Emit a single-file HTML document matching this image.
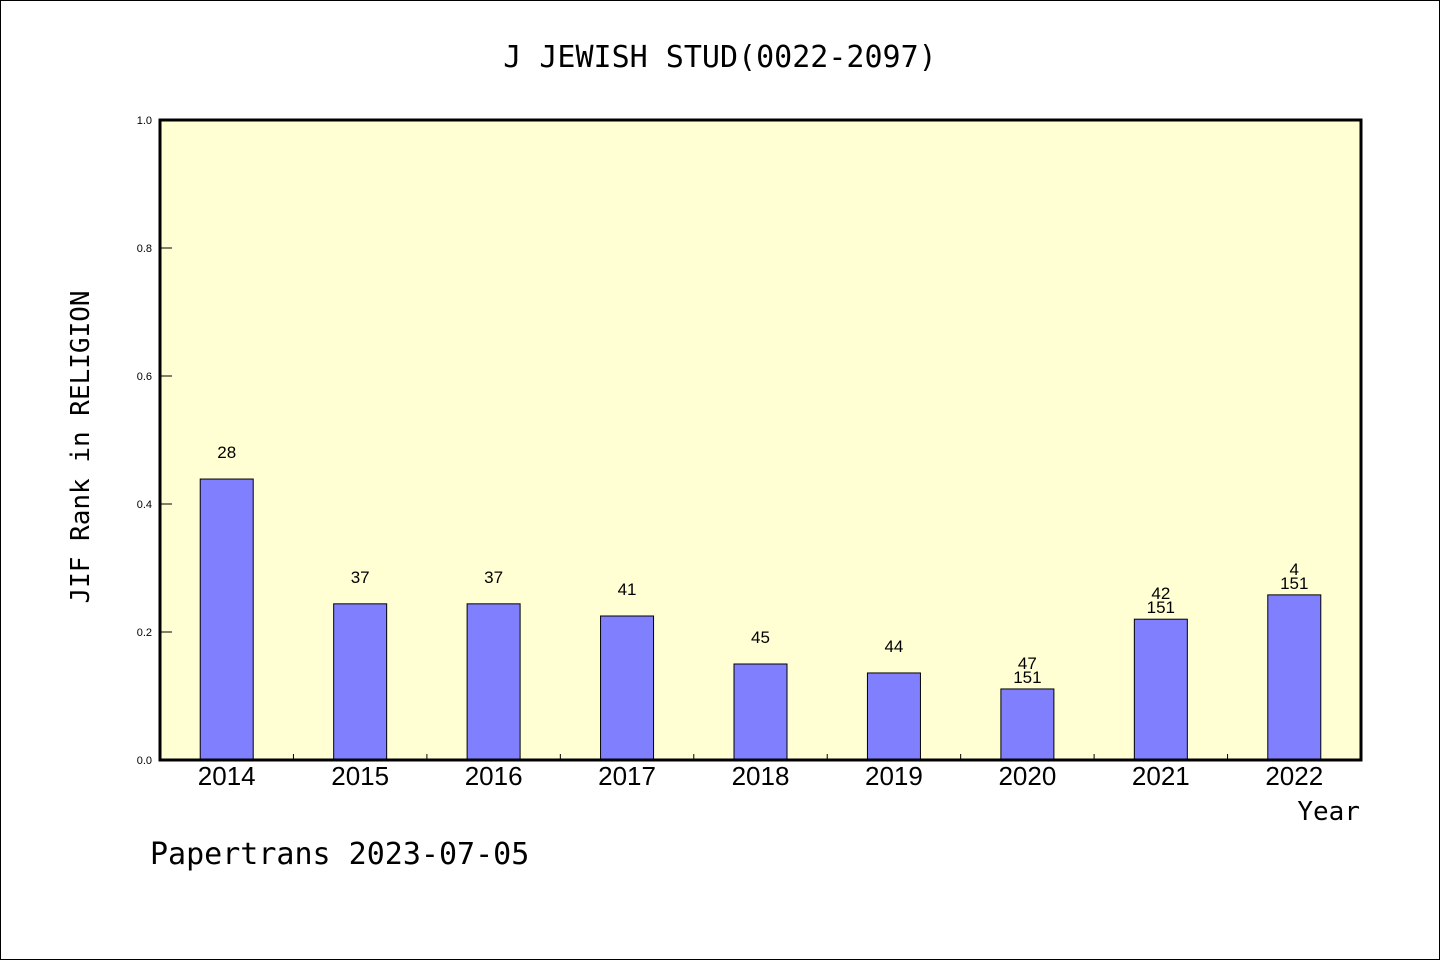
<!DOCTYPE html>
<html><head><meta charset="utf-8"><style>
html,body{margin:0;padding:0;background:#fff}
svg{display:block}
text{font-family:"Liberation Sans","DejaVu Sans",sans-serif}
.mono{font-family:"DejaVu Sans Mono","Liberation Mono",monospace}
</style></head><body>
<svg id="chart" width="1440" height="960" xmlns="http://www.w3.org/2000/svg">
<rect x="0.5" y="0.5" width="1439" height="959" fill="#fff" stroke="#000" stroke-width="1"/>
<text class="mono" x="720" y="67" font-size="30" text-anchor="middle">J JEWISH STUD(0022-2097)</text>
<rect x="160" y="120" width="1201" height="640" fill="#ffffd3"/>
<g id="marks"></g>
<rect x="160" y="120" width="1201" height="640" fill="none" stroke="#000" stroke-width="3"/>
<text class="mono" transform="translate(89,447) rotate(-90)" font-size="26" text-anchor="middle">JIF Rank in RELIGION</text>
<text class="mono" x="1360" y="820" font-size="26" text-anchor="end">Year</text>
<text class="mono" x="150" y="864" font-size="30">Papertrans 2023-07-05</text>
</svg>
<script>
const categories=["2014","2015","2016","2017","2018","2019","2020","2021","2022"];
const values=[0.439,0.244,0.244,0.225,0.150,0.136,0.111,0.220,0.258];
const rankLabels=["28","37","37","41","45","44","47","42","4"];
const totalLabels=["","","","","","","151","151","151"];
const yTicks=[0,0.2,0.4,0.6,0.8,1.0];
const tickLabels=["0.0","0.2","0.4","0.6","0.8","1.0"];

const X0=160,W=1201,Y0=760,H=640;
const band=W/categories.length;
const xc=i=>X0+band*(i+0.5);
const y=v=>Y0-v*H;
const NS="http://www.w3.org/2000/svg";
const g=document.getElementById('marks');
function mk(t,a){const e=document.createElementNS(NS,t);for(const k in a)e.setAttribute(k,a[k]);return e;}

yTicks.forEach((v,i)=>{
  const l=mk('line',{x1:X0,x2:X0+12,y1:y(v),y2:y(v),stroke:'#000','stroke-width':1});
  
  
  g.appendChild(l);
  const t=mk('text',{x:X0-8,y:y(v)+4,'font-size':11,'text-anchor':'end'});
  
  
  t.textContent=tickLabels[i];g.appendChild(t);
});
for(let i=1;i<categories.length;i++){
  const x=X0+band*i;
  const l=mk('line',{x1:x,x2:x,y1:Y0,y2:Y0-6,stroke:'#000','stroke-width':1});
  
  
  g.appendChild(l);
}
categories.forEach((c,i)=>{
  const bw=53,top=y(values[i]);
  const r=mk('rect',{x:xc(i)-bw/2,y:top,width:bw,height:Y0-top,fill:'#8080ff',stroke:'#000','stroke-width':1});
  
  
  g.appendChild(r);
  const two=totalLabels[i]!=="";
  const t=mk('text',{x:xc(i),y:top-(two?20:21),'font-size':17,'text-anchor':'middle'});
  
  
  t.textContent=rankLabels[i];g.appendChild(t);
  if(two){
    const t2=mk('text',{x:xc(i),y:top-6,'font-size':17,'text-anchor':'middle'});
    
    
    t2.textContent=totalLabels[i];g.appendChild(t2);
  }
  const xl=mk('text',{x:xc(i),y:785,'font-size':26,'text-anchor':'middle'});
  
  
  xl.textContent=c;g.appendChild(xl);
});
</script>
</body></html>
